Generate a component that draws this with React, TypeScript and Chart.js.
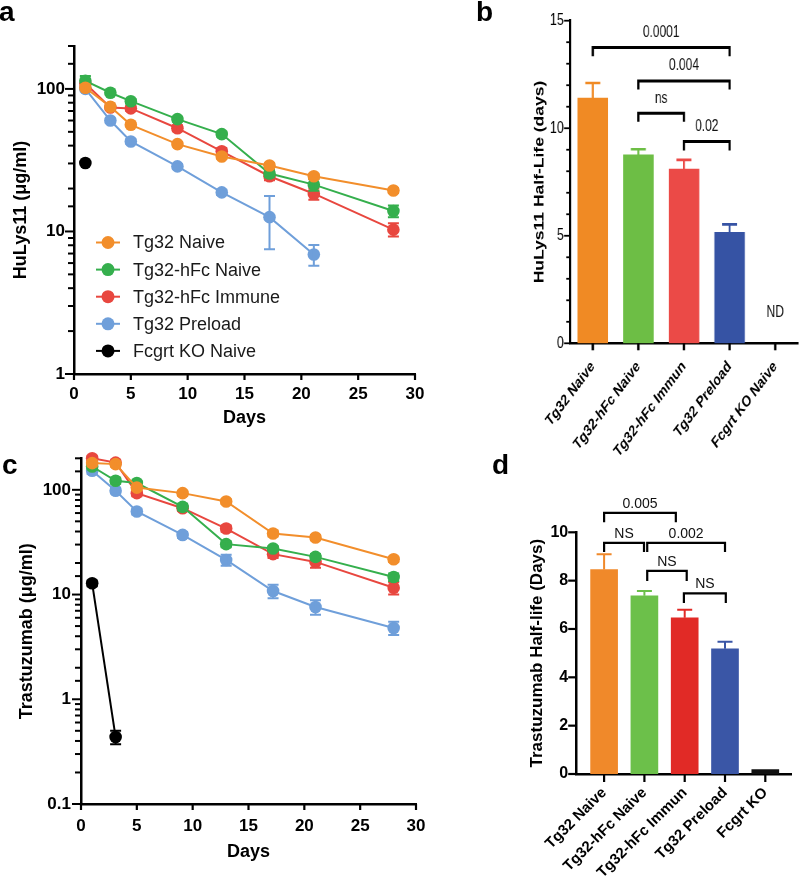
import React, { useEffect, useRef } from 'react';
import { Chart, registerables } from 'chart.js';

Chart.register(...registerables);

const FONT = '"Liberation Sans", Arial, Helvetica, sans-serif';

// ---------------- shared ----------------
const seriesNames = ['Tg32 Naive', 'Tg32-hFc Naive', 'Tg32-hFc Immune', 'Tg32 Preload', 'Fcgrt KO Naive'];
const lineColors = ['#F28E2B', '#35AF4D', '#E8473F', '#6F9FDA', '#000000'];

// ---------------- panel a (HuLys11, µg/ml) ----------------
const aDays = [1, 3.2, 5, 9.1, 13, 17.2, 21.1, 28.1];
const aKoDays = [1];
const aNaive = [102, 75, 56, 41, 33.6, 29, 24.4, 19.4];
const aNaiveErr = [4, 2, 1.5, 1.5, 1.2, 1.2, 1, 0.8];
const aHfcNaive = [114, 94, 82, 61.4, 48.2, 25.5, 21.3, 13.9];
const aHfcNaiveErr = [9, 3, 3, 2.5, 2, 1.5, 2, 1.3];
const aHfcImmune = [109, 74, 73, 53, 36.5, 24.4, 18.4, 10.3];
const aHfcImmuneErr = [6, 3, 3, 2.5, 2, 1.5, 1.7, 1.1];
const aPreload = [100, 60, 42.8, 28.6, 18.8, 12.6, 6.9];
const aPreloadErr = [4, 2, 1.5, 1, 0.8, 5.1, 1.15];
const aKo = [30.2];
const aKoErr = [0];

// ---------------- panel c (Trastuzumab, µg/ml) ----------------
const cDays = [1, 3.1, 5, 9.1, 13, 17.2, 21, 28];
const cKoDays = [1, 3.1];
const cNaive = [180, 176, 105, 93, 77.4, 38.3, 35, 21.7];
const cNaiveErr = [12, 10, 6, 5, 4, 2.5, 2, 1.2];
const cHfcNaive = [167, 122, 116, 68.8, 30.3, 27.5, 22.9, 14.7];
const cHfcNaiveErr = [10, 8, 6, 5, 2, 1.5, 1.5, 1.2];
const cHfcImmune = [200, 182, 93, 66.8, 42.7, 24.3, 20.5, 11.6];
const cHfcImmuneErr = [12, 10, 6, 4, 3, 2, 2.5, 1.6];
const cPreload = [152, 98, 62.1, 37.1, 21.4, 10.8, 7.6, 4.8];
const cPreloadErr = [10, 6, 4, 2.5, 2.6, 1.6, 1.2, 0.7];
const cKo = [12.8, 0.436];
const cKoErr = [0.8, 0.065];

// ---------------- panel b (HuLys11 half-life) ----------------
const bCats = ['Tg32 Naive', 'Tg32-hFc Naive', 'Tg32-hFc Immun', 'Tg32 Preload', 'Fcgrt KO Naive'];
const bHalfLife = [11.4, 8.76, 8.1, 5.16, null];
const bErr = [0.7, 0.26, 0.43, 0.37, 0];
const bColors = ['#F08A24', '#6DBE45', '#EB4A47', '#3653A4', '#000000'];
const bBracketFrom = [0, 1, 1, 2];
const bBracketTo = [3, 3, 2, 3];
const bBracketY = [13.75, 12.2, 10.7, 9.38];
const bBracketLeg = [13.35, 11.8, 10.3, 8.96];
const bBracketLabel = ['0.0001', '0.004', 'ns', '0.02'];
const bNoteX = [4];
const bNoteY = [1.2];
const bNoteLabel = ['ND'];

// ---------------- panel d (Trastuzumab half-life) ----------------
const dCats = ['Tg32 Naive', 'Tg32-hFc Naive', 'Tg32-hFc Immun', 'Tg32 Preload', 'Fcgrt KO'];
const dHalfLife = [8.46, 7.37, 6.46, 5.18, 0.18];
const dErr = [0.63, 0.2, 0.34, 0.29, 0];
const dColors = ['#F0892A', '#6CC04A', '#E12A26', '#3A56A6', '#111111'];
const dBracketFrom = [0, 0, 1.07, 1.07, 1.98];
const dBracketTo = [1.78, 0.99, 3, 2.05, 3.02];
const dBracketY = [10.8, 9.56, 9.56, 8.4, 7.47];
const dBracketLeg = [10.42, 9.19, 9.19, 7.98, 7.08];
const dBracketLabel = ['0.005', 'NS', '0.002', 'NS', 'NS'];

type Err = (number | null)[];

function isPow10(v: number) {
  const l = Math.log10(v);
  return Math.abs(l - Math.round(l)) < 1e-6;
}

function zeroPad(s: any) {
  s.paddingLeft = 0;
  s.paddingRight = 0;
  s.paddingTop = 0;
  s.paddingBottom = 0;
}

function tickMarks(cfg: { xLen: number; xWidth: number; yMajorLen: number; yMinorLen: number; yWidth: number; yMajor: (v: number) => boolean }) {
  return {
    id: 'tickMarks',
    afterDraw(chart: any) {
      const ctx = chart.ctx;
      const xs = chart.scales.x;
      const ys = chart.scales.y;
      ctx.save();
      ctx.strokeStyle = '#000';
      ctx.lineWidth = cfg.xWidth;
      xs.ticks.forEach((_t: any, i: number) => {
        const px = xs.getPixelForTick(i);
        ctx.beginPath();
        ctx.moveTo(px, xs.top);
        ctx.lineTo(px, xs.top + cfg.xLen);
        ctx.stroke();
      });
      ctx.lineWidth = cfg.yWidth;
      ys.ticks.forEach((t: any, i: number) => {
        const py = ys.getPixelForTick(i);
        const len = cfg.yMajor(t.value) ? cfg.yMajorLen : cfg.yMinorLen;
        ctx.beginPath();
        ctx.moveTo(ys.right, py);
        ctx.lineTo(ys.right - len, py);
        ctx.stroke();
      });
      ctx.restore();
    },
  };
}

function errorBars(errs: Err[], colorOf: (i: number, j: number) => string, cap: number, width: number, upOnly: boolean) {
  return {
    id: 'errorBars',
    afterDatasetDraw(chart: any, args: any) {
      const i = args.index;
      const e = errs[i];
      if (!e) return;
      const meta = args.meta;
      const ys = chart.scales.y;
      const ds = chart.data.datasets[i];
      const ctx = chart.ctx;
      ctx.save();
      ctx.lineWidth = width;
      meta.data.forEach((el: any, j: number) => {
        const err = e[j];
        if (err == null || !err) return;
        const d = ds.data[j];
        if (d == null) return;
        const val = typeof d === 'number' ? d : d.y;
        if (val == null) return;
        ctx.strokeStyle = colorOf(i, j);
        const x = el.x;
        const yHi = ys.getPixelForValue(val + err);
        const yLo = upOnly ? ys.getPixelForValue(val) : ys.getPixelForValue(val - err);
        ctx.beginPath();
        ctx.moveTo(x, yLo);
        ctx.lineTo(x, yHi);
        ctx.moveTo(x - cap / 2, yHi);
        ctx.lineTo(x + cap / 2, yHi);
        if (!upOnly) {
          ctx.moveTo(x - cap / 2, yLo);
          ctx.lineTo(x + cap / 2, yLo);
        }
        ctx.stroke();
      });
      ctx.restore();
    },
  };
}

function brackets(
  from: number[], to: number[], yv: number[], leg: number[], labels: string[],
  notes: { x: number[]; y: number[]; label: string[] } | null,
  cfg: { lineWidth: number; font: string; gap: number }
) {
  return {
    id: 'brackets',
    afterDatasetsDraw(chart: any) {
      const xs = chart.scales.x;
      const ys = chart.scales.y;
      const ctx = chart.ctx;
      ctx.save();
      ctx.strokeStyle = '#000';
      ctx.lineWidth = cfg.lineWidth;
      ctx.lineJoin = 'miter';
      ctx.fillStyle = '#111';
      ctx.font = cfg.font;
      ctx.textAlign = 'center';
      ctx.textBaseline = 'alphabetic';
      from.forEach((f, k) => {
        const x1 = xs.getPixelForValue(f);
        const x2 = xs.getPixelForValue(to[k]);
        const y = ys.getPixelForValue(yv[k]);
        const yl = ys.getPixelForValue(leg[k]);
        ctx.beginPath();
        ctx.moveTo(x1, yl);
        ctx.lineTo(x1, y);
        ctx.lineTo(x2, y);
        ctx.lineTo(x2, yl);
        ctx.stroke();
        ctx.fillText(labels[k], (x1 + x2) / 2, y - cfg.gap);
      });
      if (notes) {
        notes.x.forEach((nx, k) => {
          ctx.fillText(notes.label[k], xs.getPixelForValue(nx), ys.getPixelForValue(notes.y[k]));
        });
      }
      ctx.restore();
    },
  };
}

const legendPlugin = {
  id: 'lineLegend',
  afterDraw(chart: any) {
    const ctx = chart.ctx;
    ctx.save();
    ctx.font = `18px ${FONT}`;
    ctx.textBaseline = 'middle';
    ctx.textAlign = 'left';
    chart.data.datasets.forEach((ds: any, i: number) => {
      const y = 242.5 + i * 27.1;
      ctx.strokeStyle = ds.borderColor;
      ctx.lineWidth = 2;
      ctx.beginPath();
      ctx.moveTo(96, y);
      ctx.lineTo(120, y);
      ctx.stroke();
      ctx.fillStyle = ds.borderColor;
      ctx.beginPath();
      ctx.arc(108, y, 6.5, 0, Math.PI * 2);
      ctx.fill();
      ctx.fillStyle = '#1a1a1a';
      ctx.fillText(ds.label, 133, y + 1);
    });
    ctx.restore();
  },
};

function lineConfig(p: {
  days: number[][]; values: number[][]; errs: Err[]; yMin: number; yMax: number; yTitle: string;
  yWidth: number; xHeight: number; padTop: number; padRight: number; yTitlePad: number; xTitlePad: number;
  xTickPad: number; yTickPad: number; legend: boolean;
}): any {
  const datasets = p.values.map((vals, i) => ({
    label: seriesNames[i],
    data: vals.map((v, j) => ({ x: p.days[i][j], y: v })),
    borderColor: lineColors[i],
    backgroundColor: lineColors[i],
    borderWidth: 2,
    pointRadius: 6.3,
    pointHoverRadius: 6.3,
    pointBorderWidth: 0,
    tension: 0,
    clip: false,
  }));
  const plugins: any[] = [
    errorBars(p.errs, (i) => lineColors[i], 11, 2, false),
    tickMarks({ xLen: 6, xWidth: 2.2, yMajorLen: 9, yMinorLen: 6, yWidth: 2, yMajor: isPow10 }),
  ];
  if (p.legend) plugins.push(legendPlugin);
  return {
    type: 'line',
    data: { datasets },
    plugins,
    options: {
      responsive: false,
      animation: false,
      layout: { padding: { top: p.padTop, right: p.padRight, bottom: 0, left: 0 } },
      plugins: { legend: { display: false }, tooltip: { enabled: false } },
      scales: {
        x: {
          type: 'linear',
          min: 0,
          max: 30,
          ticks: { stepSize: 5, padding: p.xTickPad, maxRotation: 0, color: '#000', font: { family: FONT, size: 17, weight: 'bold' } },
          grid: { display: false, drawTicks: false },
          border: { display: true, width: 2.5, color: '#000' },
          title: { display: true, text: 'Days', color: '#000', font: { family: FONT, size: 18, weight: 'bold' }, padding: { top: 0, bottom: p.xTitlePad } },
          afterFit: (s: any) => { s.height = p.xHeight; zeroPad(s); },
        },
        y: {
          type: 'logarithmic',
          min: p.yMin,
          max: p.yMax,
          ticks: {
            autoSkip: false,
            padding: p.yTickPad,
            color: '#000',
            font: { family: FONT, size: 17, weight: 'bold' },
            callback: (v: any) => (isPow10(Number(v)) ? String(Number(v)) : ''),
          },
          grid: { display: false, drawTicks: false },
          border: { display: true, width: 2.5, color: '#000' },
          title: { display: true, text: p.yTitle, color: '#000', font: { family: FONT, size: 18, weight: 'bold' }, padding: { top: p.yTitlePad, bottom: 0 } },
          afterFit: (s: any) => { s.width = p.yWidth; zeroPad(s); },
        },
      },
    },
  };
}

function configB(): any {
  return {
    type: 'bar',
    data: {
      labels: bCats,
      datasets: [{ data: bHalfLife, backgroundColor: bColors, borderWidth: 0, barThickness: 40 }],
    },
    plugins: [
      errorBars([bErr], (_i, j) => bColors[j], 20, 2.6, true),
      brackets(bBracketFrom, bBracketTo, bBracketY, bBracketLeg, bBracketLabel,
        { x: bNoteX, y: bNoteY, label: bNoteLabel },
        { lineWidth: 3, font: `16px ${FONT}`, gap: 10.5 }),
      tickMarks({ xLen: 7, xWidth: 3.2, yMajorLen: 8, yMinorLen: 5, yWidth: 1.8, yMajor: (v) => v % 5 === 0 }),
    ],
    options: {
      responsive: false,
      animation: false,
      layout: { padding: { top: 20.7, right: 2.7, bottom: 0, left: 0 } },
      plugins: { legend: { display: false }, tooltip: { enabled: false } },
      scales: {
        x: {
          type: 'category',
          offset: true,
          ticks: { padding: 14, minRotation: 45, maxRotation: 45, autoSkip: false, color: '#000', font: { family: FONT, size: 16, weight: 'bold' } },
          grid: { display: false, drawTicks: false },
          border: { display: true, width: 2.6, color: '#000' },
          afterFit: (s: any) => { s.height = 460 - 343.3; zeroPad(s); },
        },
        y: {
          min: 0,
          max: 15,
          ticks: { stepSize: 1, autoSkip: false, padding: 8, color: '#000', font: { family: FONT, size: 17 }, callback: (v: any) => (Number(v) % 5 === 0 ? String(v) : '') },
          grid: { display: false, drawTicks: false },
          border: { display: true, width: 3, color: '#000' },
          title: { display: true, text: 'HuLys11 Half-Life (days)', color: '#000', font: { family: FONT, size: 17.5, weight: 'bold' }, padding: { top: 122.8, bottom: 0 } },
          afterFit: (s: any) => { s.width = 173.3; zeroPad(s); },
        },
      },
    },
  };
}

function configD(): any {
  return {
    type: 'bar',
    data: {
      datasets: [{ data: dHalfLife.map((v, i) => ({ x: i, y: v })), backgroundColor: dColors, borderWidth: 0, barThickness: 27 }],
    },
    plugins: [
      errorBars([dErr], (_i, j) => dColors[j], 15, 2, true),
      brackets(dBracketFrom, dBracketTo, dBracketY, dBracketLeg, dBracketLabel, null,
        { lineWidth: 2.2, font: `14px ${FONT}`, gap: 5 }),
      tickMarks({ xLen: 8, xWidth: 2.2, yMajorLen: 8.5, yMinorLen: 8.5, yWidth: 2.2, yMajor: () => true }),
    ],
    options: {
      responsive: false,
      animation: false,
      layout: { padding: { top: 92.3, right: 8.3, bottom: 0, left: 0 } },
      plugins: { legend: { display: false }, tooltip: { enabled: false } },
      scales: {
        x: {
          type: 'linear',
          offset: false,
          bounds: 'data',
          min: -0.68,
          max: 4.655,
          afterBuildTicks: (s: any) => { s.ticks = dCats.map((_c, i) => ({ value: i })); },
          ticks: { padding: 10, minRotation: 45, maxRotation: 45, autoSkip: false, color: '#000', font: { family: FONT, size: 15, weight: 'bold' }, callback: (v: any) => dCats[Number(v)] ?? '' },
          grid: { display: false, drawTicks: false, offset: false },
          border: { display: true, width: 2.5, color: '#000' },
          afterFit: (s: any) => { s.height = 439 - 334; zeroPad(s); },
        },
        y: {
          min: 0,
          max: 10,
          ticks: { stepSize: 2, autoSkip: false, padding: 8.5, color: '#000', font: { family: FONT, size: 16, weight: 'bold' } },
          grid: { display: false, drawTicks: false },
          border: { display: true, width: 2.5, color: '#000' },
          title: { display: true, text: 'Trastuzumab Half-life (Days)', color: '#000', font: { family: FONT, size: 17, weight: 'bold' }, padding: { top: 87.3, bottom: 0 } },
          afterFit: (s: any) => { s.width = 136.7; zeroPad(s); },
        },
      },
    },
  };
}

const panelLabel: React.CSSProperties = {
  position: 'absolute',
  fontFamily: FONT,
  fontWeight: 'bold',
  fontSize: 28,
  lineHeight: '28px',
  color: '#000',
};

export default function App() {
  const aRef = useRef<HTMLCanvasElement>(null);
  const bRef = useRef<HTMLCanvasElement>(null);
  const cRef = useRef<HTMLCanvasElement>(null);
  const dRef = useRef<HTMLCanvasElement>(null);

  useEffect(() => {
    const charts: Chart[] = [];
    charts.push(new Chart(aRef.current as HTMLCanvasElement, lineConfig({
      days: [aDays, aDays, aDays, aDays, aKoDays],
      values: [aNaive, aHfcNaive, aHfcImmune, aPreload, aKo],
      errs: [aNaiveErr, aHfcNaiveErr, aHfcImmuneErr, aPreloadErr, aKoErr],
      yMin: 1, yMax: 200, yTitle: 'HuLys11 (μg/ml)',
      yWidth: 74, xHeight: 66, padTop: 46, padRight: 25, yTitlePad: 10, xTitlePad: 11.2,
      xTickPad: 10.5, yTickPad: 9, legend: true,
    })));
    charts.push(new Chart(bRef.current as HTMLCanvasElement, configB()));
    charts.push(new Chart(cRef.current as HTMLCanvasElement, lineConfig({
      days: [cDays, cDays, cDays, cDays, cKoDays],
      values: [cNaive, cHfcNaive, cHfcImmune, cPreload, cKo],
      errs: [cNaiveErr, cHfcNaiveErr, cHfcImmuneErr, cPreloadErr, cKoErr],
      yMin: 0.1, yMax: 200, yTitle: 'Trastuzumab (μg/ml)',
      yWidth: 81, xHeight: 75, padTop: 18.3, padRight: 24, yTitlePad: 16, xTitlePad: 16.5,
      xTickPad: 12.5, yTickPad: 10, legend: false,
    })));
    charts.push(new Chart(dRef.current as HTMLCanvasElement, configD()));
    return () => charts.forEach((c) => c.destroy());
  }, []);

  return (
    <div style={{ position: 'absolute', left: 0, top: 0, width: 800, height: 879, background: '#fff', overflow: 'hidden' }}>
      <canvas ref={aRef} width={440} height={440} style={{ position: 'absolute', left: 0, top: 0 }} />
      <canvas ref={cRef} width={440} height={439} style={{ position: 'absolute', left: 0, top: 440 }} />
      <canvas ref={dRef} width={360} height={439} style={{ position: 'absolute', left: 440, top: 440 }} />
      <canvas ref={bRef} width={480} height={460} style={{ position: 'absolute', left: 440, top: 0, transform: 'scaleX(0.75)', transformOrigin: '0 0' }} />
      <div style={{ ...panelLabel, left: -1, top: -2 }}>a</div>
      <div style={{ ...panelLabel, left: 476, top: -2 }}>b</div>
      <div style={{ ...panelLabel, left: 2, top: 451 }}>c</div>
      <div style={{ ...panelLabel, left: 492, top: 451 }}>d</div>
    </div>
  );
}
